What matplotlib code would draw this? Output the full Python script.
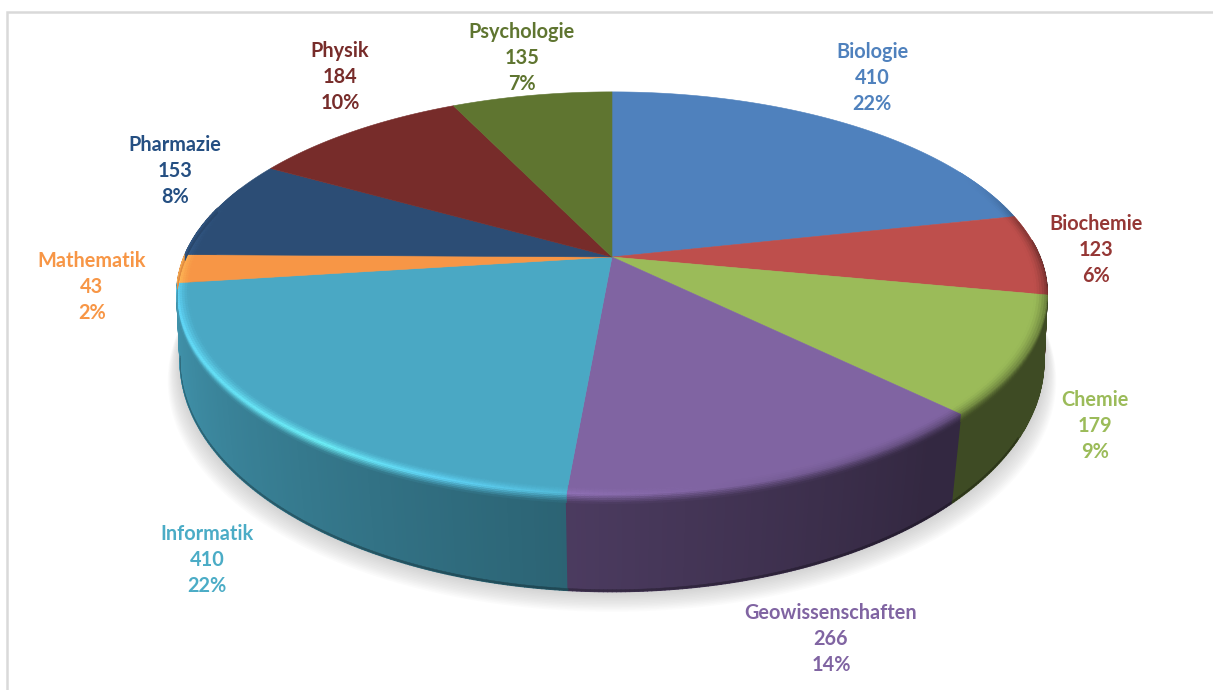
import numpy as np
import matplotlib
matplotlib.use("Agg")
import matplotlib.pyplot as plt
from matplotlib.collections import PolyCollection
from matplotlib.colors import to_rgb

categories = ["Biologie", "Biochemie", "Chemie", "Geowissenschaften", "Informatik",
              "Mathematik", "Pharmazie", "Physik", "Psychologie"]
values = [410, 123, 179, 266, 410, 43, 153, 184, 135]
face_colors = ["#4F81BD", "#BE4F4C", "#9BBB59", "#8064A2", "#4AA8C4",
               "#F79646", "#2C4D75", "#772C2A", "#5F7530"]
label_colors = ["#4F81BD", "#953735", "#9BBB59", "#8064A2", "#4BACC6",
                "#F79646", "#254F82", "#772C2A", "#5F7530"]
label_centers = [(872, 78), (1096, 250), (1095, 426), (831, 639), (207, 560),
                 (92, 287), (175, 171), (340, 77), (522, 58)]

CX, CY = 612.0, 257.0
A, B, K = 428.0, 195.0, 0.181
BCY, BA, BB, BK = 326.0, 427.0, 225.8, 0.15


def top_pt(th, r=1.0):
    u, v = r * np.sin(th), r * np.cos(th)
    d = 1 + K * v
    return CX + A * u / d, CY - B * v / d


def bot_pt(th):
    u, v = np.sin(th), np.cos(th)
    d = 1 + BK * v
    return CX + BA * u / d, BCY - BB * v / d


def side_factor(deg):
    return np.interp(deg, [0, 140, 185, 265, 360], [0.40, 0.40, 0.59, 0.90, 0.92])


def hi_gain(deg):
    return np.interp(deg, [0, 140, 185, 215, 270, 292, 360], [0, 0, 0.12, 0.44, 0.22, 0, 0])


def hi_dark(deg):
    return np.interp(deg, [0, 62, 80, 135, 185, 200, 360], [0, 0, 0.55, 0.50, 0.0, 0, 0])


def bevel_on(deg):
    return np.interp(deg, [0, 62, 80, 280, 292, 360], [0, 0, 1, 1, 0, 0])


total = sum(values)
edges = np.concatenate([[0], np.cumsum(values)]) / total * 360.0

fig = plt.figure(figsize=(12.13, 6.9), dpi=100, facecolor="white")
ax = fig.add_axes([0, 0, 1, 1])
ax.set_xlim(0, 1213)
ax.set_ylim(690, 0)
ax.axis("off")

# frame
ax.plot([1213, 7, 7], [12, 12, 690], color="#D9D9D9", lw=1.8, solid_joinstyle="miter", zorder=1)

# soft shadow under the disc
full = np.radians(np.linspace(0, 360, 361))
bx, by = bot_pt(full)
for i in range(13, 0, -1):
    sx = CX + (bx - CX) * (1 + 0.0022 * i)
    sy = by + 1.55 * i
    ax.fill(sx, sy, color="#808080", alpha=0.028, lw=0, zorder=2)

# side wall
polys, cols = [], []
for start, stop, color in zip(edges[:-1], edges[1:], face_colors):
    base = np.array(to_rgb(color))
    n = max(int(stop - start), 1) * 2
    deg = np.linspace(start, stop, n + 1)
    for a, b in zip(deg[:-1], deg[1:]):
        mid = (a + b) / 2
        if mid < 85 or mid > 285:
            continue
        t0, t1 = np.radians(a), np.radians(b)
        x0, y0 = top_pt(t0)
        x1, y1 = top_pt(t1)
        x2, y2 = bot_pt(t1)
        x3, y3 = bot_pt(t0)
        c = base * side_factor(mid)
        polys.append([(x0, y0), (x1, y1), (x2, y2), (x3, y3)])
        cols.append((abs(mid - 185), tuple(c)))
order = np.argsort([-c[0] for c in cols])
ax.add_collection(PolyCollection([polys[i] for i in order],
                                 facecolors=[cols[i][1] for i in order],
                                 edgecolors=[cols[i][1] for i in order],
                                 linewidths=1.0, zorder=3))

# dark foot of the wall
polys, cols = [], []
for start, stop, color in zip(edges[:-1], edges[1:], face_colors):
    base = np.array(to_rgb(color))
    deg = np.linspace(start, stop, max(int(stop - start), 1) * 2 + 1)
    for a, b in zip(deg[:-1], deg[1:]):
        mid = (a + b) / 2
        if mid < 118 or mid > 262:
            continue
        t0, t1 = np.radians(a), np.radians(b)
        p0, p1 = np.array(bot_pt(t0)), np.array(bot_pt(t1))
        q0, q1 = p0 + [0, -2.0], p1 + [0, -2.0]
        polys.append([tuple(q0), tuple(q1), tuple(p1), tuple(p0)])
        cols.append(tuple(base * side_factor(mid) * 0.72))
ax.add_collection(PolyCollection(polys, facecolors=cols, edgecolors=cols, linewidths=0.3, zorder=4))

# top face
for start, stop, color in zip(edges[:-1], edges[1:], face_colors):
    th = np.radians(np.linspace(start, stop, 200))
    xs, ys = top_pt(th)
    ax.fill(np.r_[CX, xs], np.r_[CY, ys], facecolor=color, edgecolor=color, lw=0.4, zorder=5)

# rounded bevel along the rim
LAYERS = 10
polys, cols = [], []
for start, stop, color in zip(edges[:-1], edges[1:], face_colors):
    base = np.array(to_rgb(color))
    deg = np.linspace(start, stop, max(int(stop - start), 1) * 2 + 1)
    for a, b in zip(deg[:-1], deg[1:]):
        mid = (a + b) / 2
        on = float(bevel_on(mid))
        if on <= 0:
            continue
        side = base * side_factor(mid)
        hi = np.clip(base * (1 + 1.0 * hi_gain(mid)) + 0.06 * hi_gain(mid), 0, 1)
        hi = hi * (1 - hi_dark(mid)) + side * hi_dark(mid)
        t0, t1 = np.radians(a), np.radians(b)

        def rim(t, s):
            if s <= 0.5:
                return np.array(top_pt(t, 1 - 0.028 * (1 - 2 * s)))
            top = np.array(top_pt(t))
            bot = np.array(bot_pt(t))
            return top + (bot - top) * 0.09 * (2 * s - 1)

        wall_ok = 85 <= mid <= 285
        for j in range(LAYERS):
            s0, s1 = j / LAYERS, (j + 1) / LAYERS
            sm = (s0 + s1) / 2
            if sm > 0.5 and not wall_ok:
                continue
            if sm <= 0.5:
                c = base + (hi - base) * (2 * sm) ** 1.5
                c = base + (c - base) * on
            else:
                c = hi + (side - hi) * (2 * sm - 1) ** 0.8
            polys.append([tuple(rim(t0, s0)), tuple(rim(t1, s0)), tuple(rim(t1, s1)), tuple(rim(t0, s1))])
            cols.append(tuple(np.clip(c, 0, 1)))
ax.add_collection(PolyCollection(polys, facecolors=cols, edgecolors=cols, linewidths=0.3, zorder=6))

# labels
for name, val, col, (lx, ly) in zip(categories, values, label_colors, label_centers):
    ax.text(lx, ly, f"{name}\n{val}\n{val / total:.0%}", ha="center", va="center",
            family="Lato", weight="bold", fontsize=14.3, color=col,
            linespacing=1.36, zorder=10)

fig.savefig("out.png", dpi=100, facecolor="white")
